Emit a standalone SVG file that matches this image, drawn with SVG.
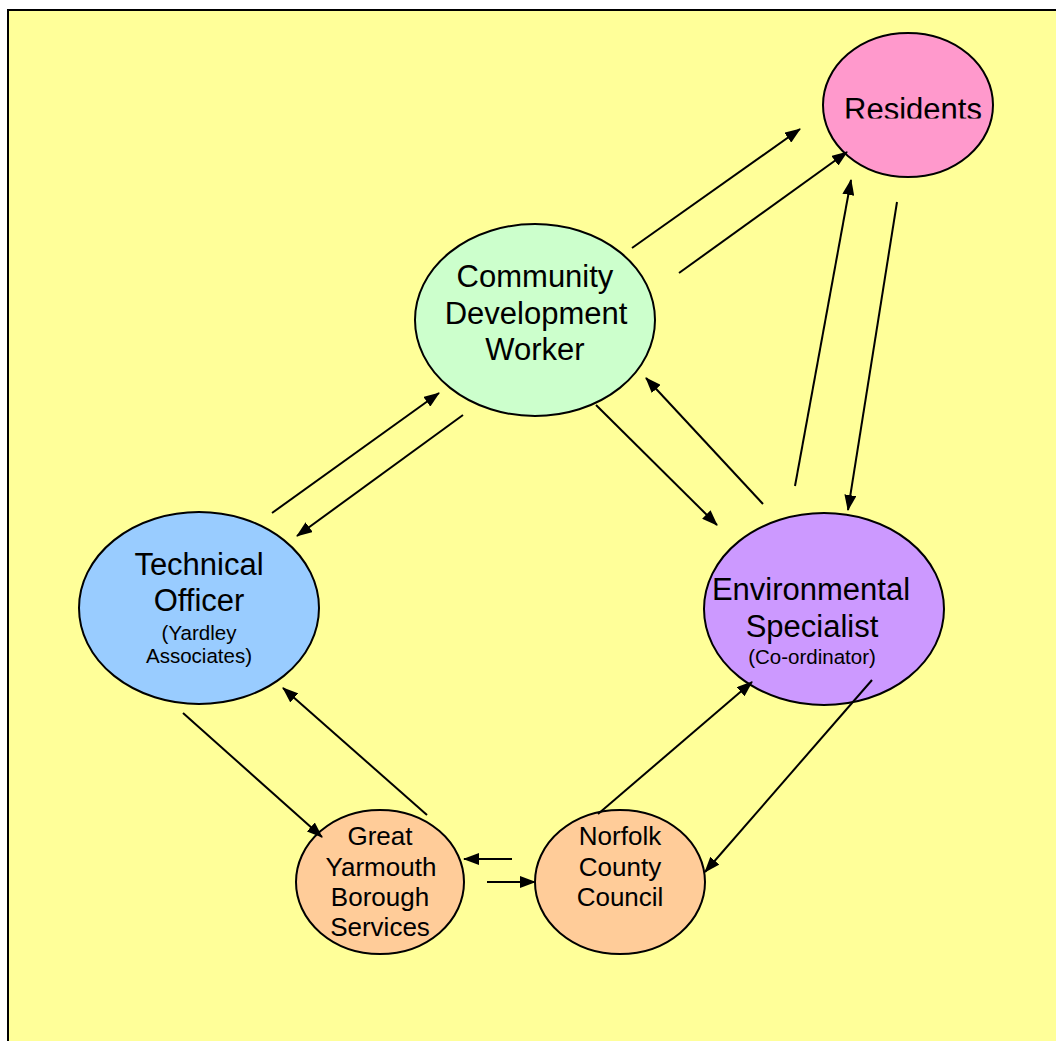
<svg xmlns="http://www.w3.org/2000/svg" width="1056" height="1041" viewBox="0 0 1056 1041">
<style>
.node{stroke:#000;stroke-width:2}
.big{font-family:"Liberation Sans",Arial,sans-serif;font-size:31px;fill:#000;text-anchor:middle}
.mid{font-family:"Liberation Sans",Arial,sans-serif;font-size:26px;fill:#000;text-anchor:middle}
.small{font-family:"Liberation Sans",Arial,sans-serif;font-size:20.5px;fill:#000;text-anchor:middle}
.conn line{stroke:#000;stroke-width:2;marker-end:url(#ah)}
</style>
<defs>
<marker id="ah" markerWidth="16" markerHeight="12" refX="15" refY="6" orient="auto" markerUnits="userSpaceOnUse">
<path d="M0,0 L16,6 L0,12 Z" fill="#000"/>
</marker>
<clipPath id="resClip"><rect x="820" y="30" width="180" height="88.5"/></clipPath>
</defs>
<rect x="0" y="0" width="1056" height="1041" fill="#fff"/>
<rect x="8" y="10" width="1060" height="1045" fill="#FFFF99" stroke="#000" stroke-width="2"/>

<g id="residents">
<ellipse class="node" cx="908" cy="105" rx="85" ry="72" fill="#FF99CC"/>
<text class="big" x="913" y="120" clip-path="url(#resClip)">Residents</text>
</g>
<g id="cdw">
<ellipse class="node" cx="535" cy="320" rx="120" ry="96" fill="#CCFFCC"/>
<text class="big" x="535" y="287">Community</text>
<text class="big" x="536" y="324">Development</text>
<text class="big" x="535" y="360">Worker</text>
</g>
<g id="technical-officer">
<ellipse class="node" cx="199" cy="608" rx="120" ry="96" fill="#99CCFF"/>
<text class="big" x="199" y="575">Technical</text>
<text class="big" x="199" y="611">Officer</text>
<text class="small" x="199" y="640">(Yardley</text>
<text class="small" x="199" y="663">Associates)</text>
</g>
<g id="environmental-specialist">
<ellipse class="node" cx="824" cy="609" rx="120" ry="96" fill="#CC99FF"/>
<text class="big" x="811" y="600">Environmental</text>
<text class="big" x="812" y="637">Specialist</text>
<text class="small" x="812" y="664">(Co-ordinator)</text>
</g>
<g id="great-yarmouth">
<ellipse class="node" cx="380" cy="882" rx="84" ry="72" fill="#FFCC99"/>
<text class="mid" x="380" y="845">Great</text>
<text class="mid" x="381" y="876">Yarmouth</text>
<text class="mid" x="380" y="906">Borough</text>
<text class="mid" x="380" y="936">Services</text>
</g>
<g id="norfolk">
<ellipse class="node" cx="620" cy="882" rx="85" ry="72" fill="#FFCC99"/>
<text class="mid" x="620" y="845">Norfolk</text>
<text class="mid" x="620" y="876">County</text>
<text class="mid" x="620" y="906">Council</text>
</g>

<g class="conn" id="connectors">
<line x1="632" y1="248" x2="800" y2="129"/>
<line x1="679" y1="273" x2="847" y2="152"/>
<line x1="795" y1="486" x2="851" y2="180"/>
<line x1="897" y1="202" x2="848" y2="510"/>
<line x1="763" y1="504" x2="646" y2="378"/>
<line x1="596" y1="405" x2="717" y2="525"/>
<line x1="272" y1="513" x2="439" y2="393"/>
<line x1="463" y1="415" x2="297" y2="536"/>
<line x1="183" y1="713" x2="322" y2="837"/>
<line x1="427" y1="815" x2="283" y2="688"/>
<line x1="512" y1="859" x2="464" y2="859"/>
<line x1="487" y1="882" x2="535" y2="882"/>
<line x1="598" y1="814" x2="752" y2="682"/>
<line x1="872" y1="680" x2="705" y2="872"/>
</g>
</svg>
